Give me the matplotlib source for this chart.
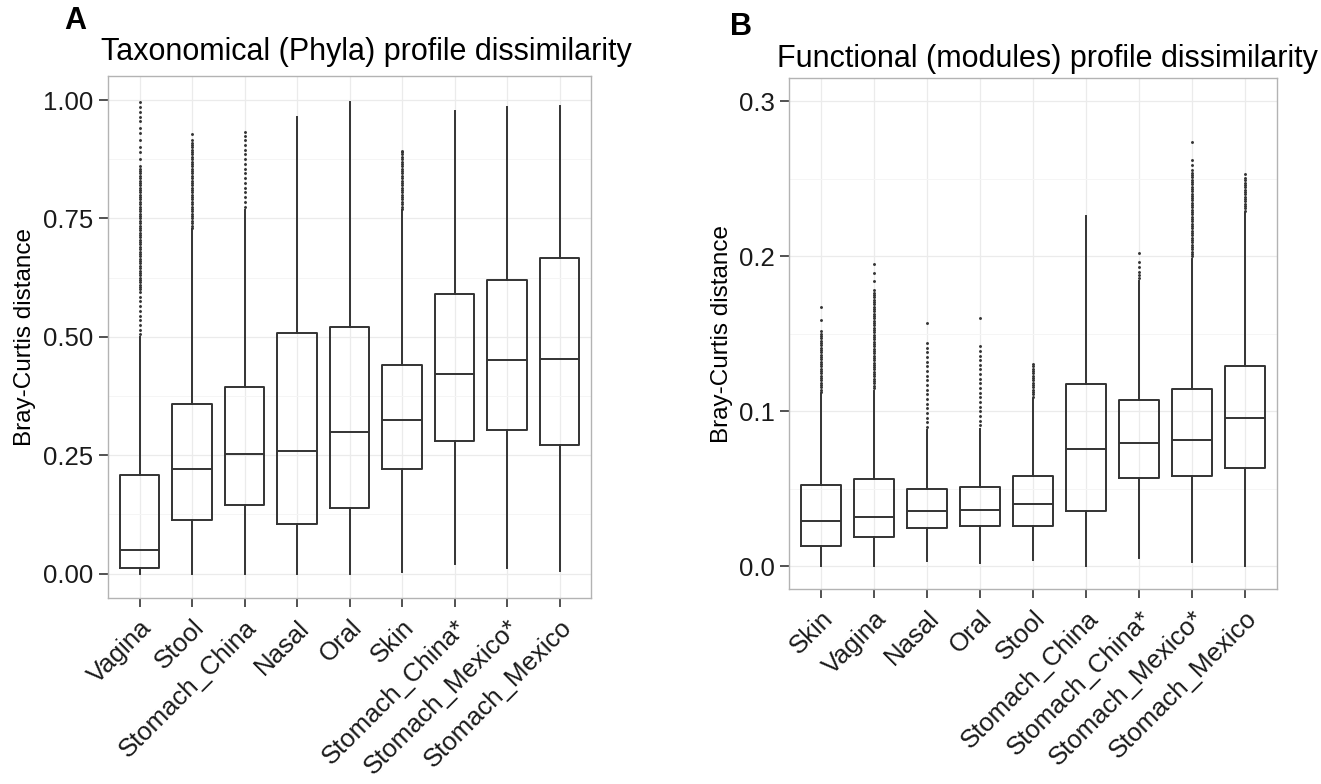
import matplotlib.pyplot as plt

plt.rcParams['font.family'] = ['Liberation Sans', 'DejaVu Sans']

# Panel A: taxonomical (phyla) Bray-Curtis distances
tax_groups = ['Vagina', 'Stool', 'Stomach_China', 'Nasal', 'Oral', 'Skin',
              'Stomach_China*', 'Stomach_Mexico*', 'Stomach_Mexico']
tax_q1 = [0.012, 0.114, 0.145, 0.105, 0.139, 0.221, 0.279, 0.304, 0.272]
tax_med = [0.049, 0.221, 0.252, 0.259, 0.298, 0.324, 0.422, 0.450, 0.454]
tax_q3 = [0.208, 0.359, 0.394, 0.508, 0.520, 0.440, 0.590, 0.621, 0.667]
tax_lo = [0.000, 0.000, 0.000, 0.000, 0.000, 0.003, 0.021, 0.011, 0.005]
tax_hi = [0.500, 0.727, 0.768, 0.964, 0.996, 0.768, 0.977, 0.985, 0.987]
tax_out = [
    [0.505, 0.515, 0.525, 0.535, 0.545, 0.555, 0.565, 0.575, 0.585, 0.595,
     0.600, 0.605, 0.610, 0.615, 0.620, 0.625, 0.630, 0.635, 0.640, 0.645,
     0.650, 0.655, 0.660, 0.665, 0.670, 0.675, 0.680, 0.685, 0.690, 0.695,
     0.700, 0.705, 0.710, 0.715, 0.720, 0.725, 0.730, 0.735, 0.740, 0.745,
     0.750, 0.755, 0.760, 0.765, 0.770, 0.775, 0.780, 0.785, 0.790, 0.795,
     0.800, 0.805, 0.810, 0.815, 0.820, 0.825, 0.830, 0.835, 0.840, 0.845,
     0.850, 0.855, 0.860, 0.875, 0.890, 0.900, 0.915, 0.930, 0.940, 0.955,
     0.965, 0.975, 0.985, 0.995],
    [0.730, 0.735, 0.740, 0.745, 0.750, 0.755, 0.760, 0.765, 0.770, 0.775,
     0.780, 0.785, 0.790, 0.795, 0.800, 0.805, 0.810, 0.815, 0.820, 0.825,
     0.830, 0.835, 0.840, 0.845, 0.850, 0.855, 0.860, 0.865, 0.870, 0.875,
     0.880, 0.885, 0.890, 0.895, 0.900, 0.905, 0.910, 0.915, 0.928],
    [0.775, 0.785, 0.795, 0.805, 0.815, 0.825, 0.835, 0.845, 0.855, 0.865,
     0.875, 0.885, 0.895, 0.905, 0.915, 0.925, 0.932],
    [], [],
    [0.770, 0.775, 0.780, 0.785, 0.790, 0.795, 0.800, 0.805, 0.810, 0.815,
     0.820, 0.825, 0.830, 0.835, 0.840, 0.845, 0.850, 0.855, 0.860, 0.865,
     0.870, 0.875, 0.880, 0.885, 0.890, 0.893],
    [], [], [],
]

# Panel B: functional (modules) Bray-Curtis distances
fun_groups = ['Skin', 'Vagina', 'Nasal', 'Oral', 'Stool', 'Stomach_China',
              'Stomach_China*', 'Stomach_Mexico*', 'Stomach_Mexico']
fun_q1 = [0.0129, 0.0187, 0.0247, 0.0262, 0.0258, 0.0359, 0.0567, 0.0582, 0.0636]
fun_med = [0.0290, 0.0316, 0.0354, 0.0365, 0.0404, 0.0758, 0.0797, 0.0814, 0.0960]
fun_q3 = [0.0522, 0.0565, 0.0500, 0.0511, 0.0586, 0.1179, 0.1076, 0.1143, 0.1295]
fun_lo = [0.0000, 0.0000, 0.0032, 0.0022, 0.0039, 0.0000, 0.0054, 0.0026, 0.0005]
fun_hi = [0.1110, 0.1132, 0.0880, 0.0885, 0.1078, 0.2262, 0.1840, 0.1985, 0.2280]
fun_out = [
    [0.1125, 0.1140, 0.1155, 0.1170, 0.1185, 0.1200, 0.1215, 0.1230, 0.1245,
     0.1260, 0.1275, 0.1290, 0.1305, 0.1320, 0.1335, 0.1350, 0.1365, 0.1380,
     0.1395, 0.1410, 0.1425, 0.1440, 0.1455, 0.1470, 0.1485, 0.1500, 0.1515,
     0.159, 0.167],
    [0.1150, 0.1165, 0.1180, 0.1195, 0.1210, 0.1225, 0.1240, 0.1255, 0.1270,
     0.1285, 0.1300, 0.1315, 0.1330, 0.1345, 0.1360, 0.1375, 0.1390, 0.1405,
     0.1420, 0.1435, 0.1450, 0.1465, 0.1480, 0.1495, 0.1510, 0.1525, 0.1540,
     0.1555, 0.1570, 0.1585, 0.1600, 0.1615, 0.1630, 0.1645, 0.1660, 0.1675,
     0.1690, 0.1705, 0.1720, 0.1735, 0.1750, 0.1765, 0.1780, 0.184, 0.189,
     0.195],
    [0.090, 0.093, 0.096, 0.099, 0.102, 0.105, 0.108, 0.111, 0.114, 0.117,
     0.120, 0.123, 0.126, 0.129, 0.132, 0.135, 0.138, 0.141, 0.144, 0.157],
    [0.091, 0.094, 0.097, 0.100, 0.103, 0.106, 0.109, 0.112, 0.115, 0.118,
     0.121, 0.124, 0.127, 0.130, 0.133, 0.136, 0.139, 0.142, 0.160],
    [0.1095, 0.1110, 0.1125, 0.1140, 0.1155, 0.1170, 0.1185, 0.1200, 0.1215,
     0.1230, 0.1245, 0.1260, 0.1275, 0.1290, 0.1305],
    [],
    [0.186, 0.188, 0.190, 0.193, 0.1965, 0.2023],
    [0.2000, 0.2015, 0.2030, 0.2045, 0.2060, 0.2075, 0.2090, 0.2105, 0.2120,
     0.2135, 0.2150, 0.2165, 0.2180, 0.2195, 0.2210, 0.2225, 0.2240, 0.2255,
     0.2270, 0.2285, 0.2300, 0.2315, 0.2330, 0.2345, 0.2360, 0.2375, 0.2390,
     0.2405, 0.2420, 0.2435, 0.2450, 0.2465, 0.2480, 0.2495, 0.2510, 0.2525,
     0.2540, 0.2555, 0.259, 0.262, 0.2739],
    [0.2295, 0.2310, 0.2325, 0.2340, 0.2355, 0.2370, 0.2385, 0.2400, 0.2415,
     0.2430, 0.2445, 0.2460, 0.2475, 0.2490, 0.2505, 0.2528],
]

tax_ticks = [0.0, 0.25, 0.5, 0.75, 1.0]
tax_ticklabels = ['0.00', '0.25', '0.50', '0.75', '1.00']
fun_ticks = [0.0, 0.1, 0.2, 0.3]
fun_ticklabels = ['0.0', '0.1', '0.2', '0.3']

dark = '#333333'
tick_col = '#1a1a1a'


def draw_panel(ax, groups, q1, med, q3, lo, hi, out, ylim, ticks, ticklabels):
    stats = []
    for i in range(len(groups)):
        stats.append(dict(med=med[i], q1=q1[i], q3=q3[i], whislo=lo[i],
                          whishi=hi[i], fliers=out[i]))
    pos = list(range(1, len(groups) + 1))
    ax.bxp(stats, positions=pos, widths=0.75, showcaps=False,
           boxprops=dict(color=dark, linewidth=1.4),
           medianprops=dict(color=dark, linewidth=1.4),
           whiskerprops=dict(color=dark, linewidth=1.4),
           flierprops=dict(marker='o', markersize=2.1, markerfacecolor=dark,
                           markeredgecolor='none'),
           zorder=3)
    ax.set_xlim(0.4, len(groups) + 0.6)
    ax.set_ylim(*ylim)
    ax.set_yticks(ticks)
    ax.set_yticklabels(ticklabels)
    minor = [(a + b) / 2 for a, b in zip(ticks[:-1], ticks[1:])]
    ax.set_yticks(minor, minor=True)
    ax.set_xticks(pos)
    ax.set_xticklabels(groups, rotation=45, ha='right', va='top',
                       rotation_mode='anchor')
    ax.grid(True, which='major', color='#ebebeb', linewidth=0.9, zorder=0)
    ax.grid(True, which='minor', axis='y', color='#f5f5f5', linewidth=0.7, zorder=0)
    ax.set_axisbelow(True)
    ax.tick_params(axis='both', which='major', length=6.5, width=1.2,
                   color=dark, labelsize=18.5, labelcolor=tick_col)
    ax.tick_params(axis='y', which='major', pad=4)
    ax.tick_params(axis='x', which='major', pad=6)
    ax.tick_params(axis='y', which='minor', length=0)
    for s in ax.spines.values():
        s.set_color('#b3b3b3')
        s.set_linewidth(1.0)


fig = plt.figure(figsize=(13.21, 7.84), dpi=100)

axA = fig.add_axes([0.0818, 0.2372, 0.3656, 0.6659])
draw_panel(axA, tax_groups, tax_q1, tax_med, tax_q3, tax_lo, tax_hi, tax_out,
           (-0.0516, 1.0508), tax_ticks, tax_ticklabels)

axB = fig.add_axes([0.5973, 0.2487, 0.3694, 0.6518])
draw_panel(axB, fun_groups, fun_q1, fun_med, fun_q3, fun_lo, fun_hi, fun_out,
           (-0.0146, 0.315), fun_ticks, fun_ticklabels)

fig.text(0.277, 0.934, 'Taxonomical (Phyla) profile dissimilarity',
         fontsize=22, ha='center', va='center')
fig.text(0.793, 0.925, 'Functional (modules) profile dissimilarity',
         fontsize=22, ha='center', va='center')
fig.text(0.057, 0.973, 'A', fontsize=22, fontweight='bold', ha='center', va='center')
fig.text(0.561, 0.966, 'B', fontsize=22, fontweight='bold', ha='center', va='center')

fig.text(0.019, 0.570, 'Bray-Curtis distance', fontsize=17.5, rotation=90,
         ha='center', va='center')
fig.text(0.5466, 0.5746, 'Bray-Curtis distance', fontsize=17.5, rotation=90,
         ha='center', va='center')

fig.savefig('out.png', dpi=100)
